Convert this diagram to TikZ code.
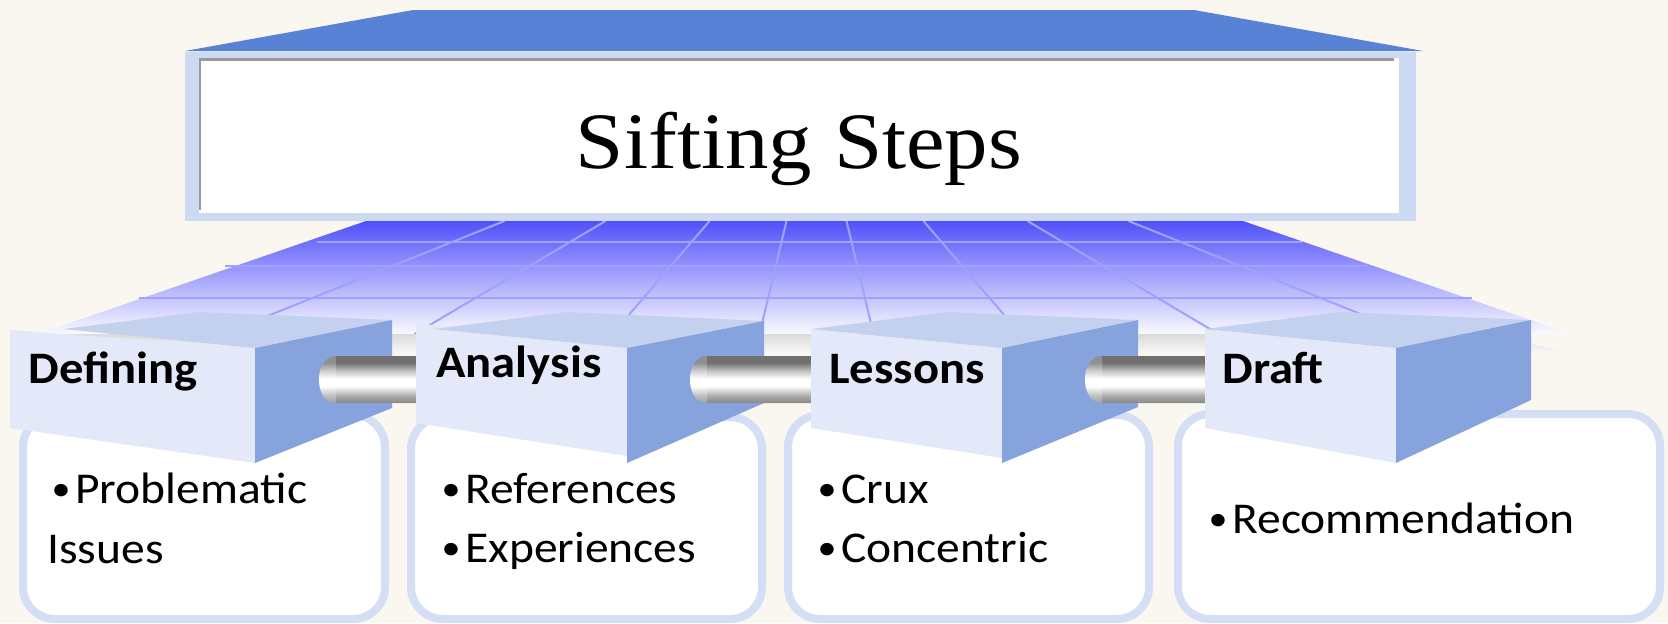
\documentclass[tikz,border=0pt]{standalone}
\usepackage{graphicx}
\usepackage{fontspec}
\setmainfont{Carlito}
\newfontfamily\titlefont{Liberation Serif}
\definecolor{bgC}{HTML}{FAF6F0}
\definecolor{roofC}{HTML}{5882D6}
\definecolor{frameC}{HTML}{CCDAF2}
\definecolor{insetC}{HTML}{9A9A9A}
\definecolor{floorTopC}{HTML}{5050FA}
\definecolor{floorBotC}{HTML}{FAFAFF}
\definecolor{gridC}{HTML}{A0A0FF}
\definecolor{bandTopC}{HTML}{DADADA}
\definecolor{bandBotC}{HTML}{FAFAFA}
\definecolor{cubeTopC}{HTML}{C3D1EE}
\definecolor{cubeFrontC}{HTML}{E3E9F8}
\definecolor{cubeRightC}{HTML}{87A3DD}
\definecolor{boxBorderC}{HTML}{D4DEF4}
\definecolor{cylA}{HTML}{888888}
\definecolor{cylB}{HTML}{AEAEAE}
\definecolor{cylC}{HTML}{C4C4C4}
\definecolor{cylD}{HTML}{707070}
\pgfdeclareverticalshading{cylshade}{100bp}{color(0bp)=(cylA); color(25bp)=(cylA); color(33bp)=(cylB); color(43bp)=(white); color(51bp)=(white); color(59bp)=(cylC); color(68bp)=(cylD); color(75bp)=(cylD); color(100bp)=(cylD)}
\newcommand\hs[1]{\scalebox{1.08}[1]{#1}}
\newcommand\bul{\makebox[12pt][l]{\hspace{1pt}\raisebox{1.2pt}{\scalebox{0.8}{\textbullet}}}}
\newcommand\mybar[2]{%
  \shade[shading=cylshade] ({#1+17},356) -- (#2,356) -- (#2,403) -- ({#1+17},403)
    .. controls ({#1-5.7},403) and ({#1-5.7},356) .. ({#1+17},356) -- cycle;
  \fill[white,opacity=0.22] ({#1+17},356) -- ({#1+17},403)
    .. controls ({#1-5.7},403) and ({#1-5.7},356) .. ({#1+17},356) -- cycle;}
\begin{document}
\begin{tikzpicture}[x=0.5pt,y=-0.5pt,
  txt/.style={inner sep=0pt, anchor=base west, font=\fontsize{22}{26}\selectfont},
  lbl/.style={inner sep=0pt, anchor=base west, font=\fontsize{22.5}{26}\selectfont\bfseries},
  cubetop/.style={fill=cubeTopC},
  cubefront/.style={fill=cubeFrontC},
  cuberight/.style={fill=cubeRightC},
  listbox/.style={draw=boxBorderC, line width=4pt, fill=white, rounded corners=16pt},
  gridline/.style={draw=gridC, line width=1pt},
  hline/.style={draw=gridC, line width=1.3pt}]
\useasboundingbox (0,0) rectangle (1668,623);
\fill[bgC] (0,0) rectangle (1668,623);
% floor
\shade[top color=floorTopC, bottom color=floorBotC] (366,221) -- (1243,221) -- (1571,334) -- (38,334) -- cycle;
\foreach \o/\b in {30/57, 107/204, 211/402, 312/594}{
  \draw[gridline] ({816.5-\o},221) -- ({816.5-\b},334);
  \draw[gridline] ({816.5+\o},221) -- ({816.5+\b},334);
}
\draw[hline] (317,242) -- (1302,242);
\draw[hline] (225,266) -- (1367,266);
\draw[hline] (139,298) -- (1472,298);
\shade[top color=bandTopC, bottom color=bandBotC] (38,334) -- (1531,334) -- (1531,344) -- (1568,352) -- (1531,354) -- (38,354) -- cycle;
% roof and title frame
\fill[roofC] (413,10) -- (1194,10) -- (1423,51) -- (185,51) -- cycle;
\fill[frameC] (185,52) rectangle (1416,221);
\fill[white] (199,58) rectangle (1399,213);
\draw[insetC, line width=1.3pt] (200,210) -- (200,59.5) -- (1394,59.5);
\node[inner sep=0pt, anchor=base, font=\titlefont\fontsize{40}{48}\selectfont] (title) at (799,168) {\scalebox{1.085}[1]{Sifting Steps}};
% list boxes
\draw[listbox] (23,415) rectangle (385,619);
\draw[listbox] (411,417) rectangle (762,619);
\draw[listbox] (788,415) rectangle (1149,619);
\draw[listbox] (1178,414) rectangle (1660,619);
% cube 1
\fill[cubefront] (10,330) -- (255,348) -- (255,463) -- (10,428) -- cycle;
\fill[cubetop] (63,329) -- (199,312) -- (392,320) -- (255,348) -- cycle;
\fill[cuberight] (255,348) -- (392,320) -- (392,408) -- (255,463) -- cycle;
\mybar{319}{420}
% cube 2
\fill[cubefront] (416,323) -- (627,348) -- (627,456) -- (416,423) -- cycle;
\fill[cubetop] (434,329) -- (567,312) -- (764,321) -- (627,348) -- cycle;
\fill[cuberight] (627,348) -- (764,321) -- (764,403) -- (627,463) -- cycle;
\mybar{690}{815}
% cube 3
\fill[cubefront] (811,329) -- (1002,348) -- (1002,458) -- (811,428) -- cycle;
\fill[cubetop] (811,329) -- (947,312) -- (1138,320) -- (1002,348) -- cycle;
\fill[cuberight] (1002,348) -- (1138,320) -- (1138,407) -- (1002,463) -- cycle;
\mybar{1085}{1209}
% cube 4
\fill[cubefront] (1205,329) -- (1396,348) -- (1396,463) -- (1205,428) -- cycle;
\fill[cubetop] (1205,329) -- (1340,312) -- (1531,320) -- (1396,348) -- cycle;
\fill[cuberight] (1396,348) -- (1531,320) -- (1531,400) -- (1396,463) -- cycle;
% labels
\node[lbl] (l1) at (28,383) {\hs{Defining}};
\node[lbl] (l2) at (436,377) {\hs{Analysis}};
\node[lbl] (l3) at (829,383) {\hs{Lessons}};
\node[lbl] (l4) at (1222,383) {\hs{Draft}};
% list texts
\node[txt] (t1a) at (49,503) {\hs{\bul Problematic}};
\node[txt] (t1b) at (47,563) {\hs{Issues}};
\node[txt] (t2a) at (439,503) {\hs{\bul References}};
\node[txt] (t2b) at (439,562) {\hs{\bul Experiences}};
\node[txt] (t3a) at (815,503) {\hs{\bul Crux}};
\node[txt] (t3b) at (815,562) {\hs{\bul Concentric}};
\node[txt] (t4a) at (1206,533) {\hs{\bul Recommendation}};
\end{tikzpicture}
\end{document}
